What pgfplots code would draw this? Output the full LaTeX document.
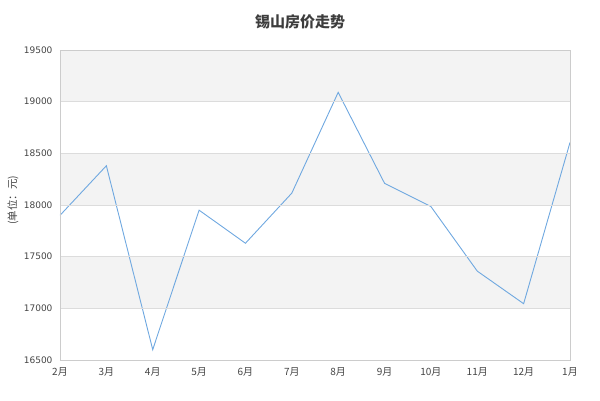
\documentclass[border=0pt]{standalone}
\usepackage{pgfplots}
\pgfplotsset{compat=1.18}
\usepackage{fontspec}
\setmainfont{DejaVu Sans}
\newfontfamily\cjk{Noto Sans CJK SC}
\definecolor{band}{HTML}{F3F3F3}
\definecolor{gridc}{HTML}{DCDCDC}
\definecolor{framec}{HTML}{CCCCCC}
\definecolor{linec}{HTML}{6FA8E0}
\definecolor{txt}{HTML}{444444}

\begin{document}
\begin{tikzpicture}
\path[use as bounding box] (0pt,0pt) rectangle (600pt,400pt);
\node[font=\cjk\bfseries\fontsize{15}{18}\selectfont, text=txt!90!black] at (300pt,378pt) {锡山房价走势};
\node[font=\cjk\fontsize{10.5}{12}\selectfont, text=txt, rotate=90] at (13pt,200pt) {(单位：元)};
\begin{axis}[
    at={(60pt,40pt)}, anchor=south west,
    scale only axis, width=510pt, height=310pt,
    axis on top,
    xmin=0, xmax=11, ymin=16500, ymax=19500,
    xtick={0,...,11},
    xticklabels={2月,3月,4月,5月,6月,7月,8月,9月,10月,11月,12月,1月},
    x tick label style={font=\cjk\fontsize{10}{12}\selectfont, text=txt},
    ytick={16500,17000,...,19500},
    scaled y ticks=false,
    y tick label style={font=\fontsize{9}{11}\selectfont, text=txt,
        /pgf/number format/fixed, /pgf/number format/1000 sep={}},
    /pgf/number format/assume math mode=true,
    major tick length=0pt,
    xticklabel shift=4pt, yticklabel shift=4pt,
    ymajorgrids, grid style={gridc, line width=0.8pt},
    axis line style={framec, line width=0.8pt},
]
\addplot[fill=band, draw=none] coordinates {(0,19000)(11,19000)(11,19500)(0,19500)} -- cycle;
\addplot[fill=band, draw=none] coordinates {(0,18000)(11,18000)(11,18500)(0,18500)} -- cycle;
\addplot[fill=band, draw=none] coordinates {(0,17000)(11,17000)(11,17500)(0,17500)} -- cycle;
\addplot[linec, line width=0.9pt, mark=none] coordinates {
 (0,17900) (1,18380) (2,16600) (3,17950) (4,17630) (5,18115)
 (6,19090) (7,18210) (8,17985) (9,17360) (10,17045) (11,18605)
};
\end{axis}
\end{tikzpicture}
\end{document}
